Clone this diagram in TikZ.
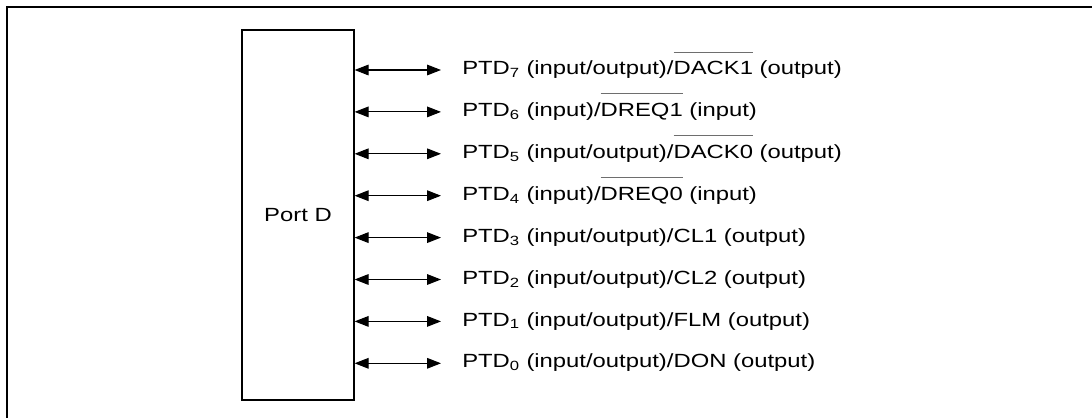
\documentclass[tikz,border=0pt]{standalone}
\usepackage{fontspec}
\setmainfont{Liberation Sans}[FakeStretch=1.25]
\usepackage{xcolor}
\definecolor{jet}{HTML}{000000}
\definecolor{barline}{HTML}{6E6E6E}
\newcommand{\negsig}[1]{\setbox0\hbox{#1}\rlap{\textcolor{barline}{\rule[16.6pt]{\wd0}{0.75pt}}}\box0\relax}
\tikzset{
  portbox/.style={draw=jet, line width=0.9pt, minimum width=84pt, minimum height=277.5pt, inner sep=0pt},
  pinlabel/.style={anchor=west, inner xsep=15.75pt, inner ysep=0pt, text height=10pt, text depth=3pt},
  pinarrow/.style={jet, line width=0.8pt, {Triangle[length=10.5pt,width=8pt]}-{Triangle[length=10.5pt,width=8pt]}}
}
\usetikzlibrary{arrows.meta}

\begin{document}
\begin{tikzpicture}[x=0.75pt, y=-0.75pt, every node/.style={font=\fontsize{14.3pt}{17pt}\selectfont, text=jet}]
  \useasboundingbox (0,0) rectangle (1092,418);
  \draw[jet, line width=1.5pt] (1092,7) -- (7,7) -- (7,418);
  \node[portbox] (port) at (298,215) {Port D};
  \node[pinlabel] (ptd7) at (441,70.0) {PTD\textsubscript{7} (input/output)/\negsig{DACK1} (output)};
  \node[pinlabel] (ptd6) at (441,111.9) {PTD\textsubscript{6} (input)/\negsig{DREQ1} (input)};
  \node[pinlabel] (ptd5) at (441,153.8) {PTD\textsubscript{5} (input/output)/\negsig{DACK0} (output)};
  \node[pinlabel] (ptd4) at (441,195.7) {PTD\textsubscript{4} (input)/\negsig{DREQ0} (input)};
  \node[pinlabel] (ptd3) at (441,237.6) {PTD\textsubscript{3} (input/output)/CL1 (output)};
  \node[pinlabel] (ptd2) at (441,279.5) {PTD\textsubscript{2} (input/output)/CL2 (output)};
  \node[pinlabel] (ptd1) at (441,321.4) {PTD\textsubscript{1} (input/output)/FLM (output)};
  \node[pinlabel] (ptd0) at (441,363.3) {PTD\textsubscript{0} (input/output)/DON (output)};
  \draw[pinarrow] (port.east |- ptd7.west) -- (ptd7.west);
  \draw[pinarrow] (port.east |- ptd6.west) -- (ptd6.west);
  \draw[pinarrow] (port.east |- ptd5.west) -- (ptd5.west);
  \draw[pinarrow] (port.east |- ptd4.west) -- (ptd4.west);
  \draw[pinarrow] (port.east |- ptd3.west) -- (ptd3.west);
  \draw[pinarrow] (port.east |- ptd2.west) -- (ptd2.west);
  \draw[pinarrow] (port.east |- ptd1.west) -- (ptd1.west);
  \draw[pinarrow] (port.east |- ptd0.west) -- (ptd0.west);
\end{tikzpicture}
\end{document}
